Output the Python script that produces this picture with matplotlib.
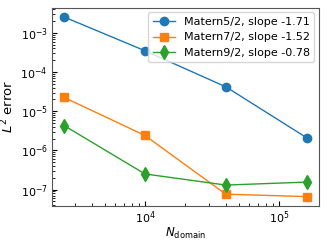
import matplotlib
matplotlib.use("Agg")
import matplotlib.pyplot as plt

n_domain = [2500, 10000, 40000, 160000]
err_m52 = [2.55e-3, 3.5e-4, 4.2e-5, 2.1e-6]
err_m72 = [2.25e-5, 2.4e-6, 7.6e-8, 6.6e-8]
err_m92 = [4.3e-6, 2.5e-7, 1.3e-7, 1.55e-7]
labels = ["Matern5/2, slope -1.71", "Matern7/2, slope -1.52", "Matern9/2, slope -0.78"]

fig, ax = plt.subplots(figsize=(3.27, 2.43), dpi=100)
ax.loglog(n_domain, err_m52, "o-", color="C0", ms=6, lw=1, label=labels[0])
ax.loglog(n_domain, err_m72, "s-", color="C1", ms=6, lw=1, label=labels[1])
ax.loglog(n_domain, err_m92, "d-", color="C2", ms=7, lw=1, label=labels[2])

ax.set_xlabel(r"$N_{\mathrm{domain}}$", fontsize=8.5, labelpad=0)
ax.set_ylabel(r"$L^2$ error", fontsize=9.5, labelpad=3)
ax.tick_params(which="both", direction="in", labelsize=8, pad=3)
ax.tick_params(which="major", length=3.5)
ax.tick_params(which="minor", length=2)
for s in ax.spines.values():
    s.set_color("#555555")
ax.legend(loc="upper right", fontsize=8, borderaxespad=0.4)

fig.subplots_adjust(left=0.159, right=0.975, top=0.967, bottom=0.154)
fig.savefig("out.png", dpi=100)
